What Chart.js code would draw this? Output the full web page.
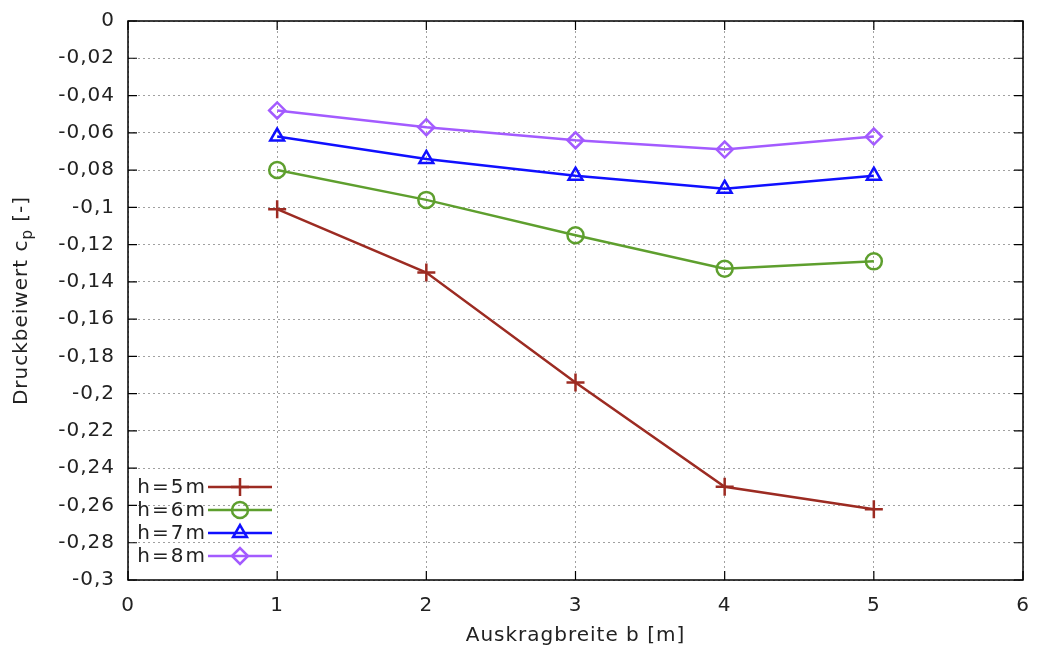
<!DOCTYPE html>
<html>
<head>
<meta charset="utf-8">
<script src="https://cdn.jsdelivr.net/npm/chart.js@4/dist/chart.umd.min.js"></script>
<style>
  html, body { margin: 0; padding: 0; background: #fff; }
  #wrap { width: 1037px; height: 652px; }
</style>
</head>
<body>
<div id="wrap"><canvas id="cpChart"></canvas></div>
<script>
// Auskragbreite b [m]
const breiten = [1, 2, 3, 4, 5];
// Druckbeiwert cp fuer die Hoehen
const h5 = [-0.101, -0.135, -0.194, -0.250, -0.262];
const h6 = [-0.080, -0.096, -0.115, -0.133, -0.129];
const h7 = [-0.062, -0.074, -0.083, -0.090, -0.083];
const h8 = [-0.048, -0.057, -0.064, -0.069, -0.062];
const serienNamen = ["h=5m", "h=6m", "h=7m", "h=8m"];
const farben = ["#9c2b22", "#5e9f2e", "#1010ff", "#a35bff"];
const marker = ["cross", "circle", "triangle", "rectRot"];
const xTicks = [0, 1, 2, 3, 4, 5, 6];

const FONT = "DejaVu Sans";
const FS = 20;
const SPACING = "1px";

function fmt(v) {
    if (Math.abs(v) < 1e-9) return "0";
    let s = v.toFixed(2).replace(/0+$/, "").replace(/\.$/, "");
    return s.replace(".", ",");
}

const serien = [h5, h6, h7, h8];
const datasets = serien.map((werte, i) => ({
    label: serienNamen[i],
    data: breiten.map((b, j) => ({ x: b, y: werte[j] })),
    borderColor: farben[i],
    backgroundColor: "transparent",
    pointBackgroundColor: "transparent",
    pointBorderColor: farben[i],
    pointStyle: marker[i],
    pointRadius: i === 0 ? 9 : 8,
    pointBorderWidth: 2.5,
    borderWidth: 2.5,
    tension: 0
}));

// Rahmen, Ticks, Achsentitel und Legende im gnuplot-Stil
const gnuplotStyle = {
    id: "gnuplotStyle",
    beforeDraw(chart) {
        chart.ctx.letterSpacing = SPACING;
    },
    afterDatasetsDraw(chart) {
        const { ctx, chartArea: a, scales } = chart;
        ctx.save();
        ctx.letterSpacing = "0px";
        ctx.strokeStyle = "#000";
        ctx.lineWidth = 1.5;
        ctx.strokeRect(a.left, a.top, a.right - a.left, a.bottom - a.top);
        ctx.lineWidth = 1.2;
        ctx.beginPath();
        scales.y.ticks.forEach(t => {
            const p = scales.y.getPixelForValue(t.value);
            ctx.moveTo(a.left, p); ctx.lineTo(a.left + 9, p);
            ctx.moveTo(a.right, p); ctx.lineTo(a.right - 9, p);
        });
        scales.x.ticks.forEach(t => {
            const p = scales.x.getPixelForValue(t.value);
            ctx.moveTo(p, a.bottom); ctx.lineTo(p, a.bottom - 9);
            ctx.moveTo(p, a.top); ctx.lineTo(p, a.top + 9);
        });
        ctx.stroke();
        ctx.restore();

        // y-Achsentitel mit Index p
        ctx.save();
        ctx.letterSpacing = SPACING;
        ctx.fillStyle = "#222";
        ctx.translate(22, (a.top + a.bottom) / 2);
        ctx.rotate(-Math.PI / 2);
        const t1 = "Druckbeiwert c", t2 = "p", t3 = " [-]";
        ctx.font = FS + "px '" + FONT + "'";
        const w1 = ctx.measureText(t1).width, w3 = ctx.measureText(t3).width;
        ctx.font = (FS - 5) + "px '" + FONT + "'";
        const w2 = ctx.measureText(t2).width;
        let x0 = -(w1 + w2 + w3) / 2;
        ctx.textBaseline = "middle";
        ctx.textAlign = "left";
        ctx.font = FS + "px '" + FONT + "'";
        ctx.fillText(t1, x0, 0);
        ctx.font = (FS - 5) + "px '" + FONT + "'";
        ctx.fillText(t2, x0 + w1, 6);
        ctx.font = FS + "px '" + FONT + "'";
        ctx.fillText(t3, x0 + w1 + w2, 0);
        ctx.restore();

        // Legende
        ctx.save();
        ctx.letterSpacing = "2px";
        ctx.font = FS + "px '" + FONT + "'";
        ctx.textAlign = "right";
        ctx.textBaseline = "middle";
        chart.data.datasets.forEach((ds, i) => {
            const y = 487 + i * 23;
            ctx.fillStyle = "#222";
            ctx.fillText(ds.label, 207, y + 1);
            ctx.strokeStyle = ds.borderColor;
            ctx.fillStyle = "rgba(0,0,0,0)";
            ctx.lineWidth = 2.5;
            ctx.beginPath();
            ctx.moveTo(208, y); ctx.lineTo(272, y);
            ctx.stroke();
            Chart.helpers.drawPoint(ctx, {
                pointStyle: ds.pointStyle,
                radius: ds.pointRadius,
                borderWidth: 2.5,
                rotation: 0
            }, 240, y);
        });
        ctx.restore();
    }
};

const gridStyle = {
    color: "#a0a0a0",
    lineWidth: 1,
    drawTicks: false
};

new Chart(document.getElementById("cpChart").getContext("2d"), {
    type: "line",
    data: { datasets: datasets },
    options: {
        responsive: true,
        maintainAspectRatio: false,
        animation: false,
        layout: { padding: { top: 21, right: 14, left: 0, bottom: 0 } },
        plugins: {
            legend: { display: false },
            tooltip: { enabled: false }
        },
        scales: {
            x: {
                type: "linear",
                min: 0,
                max: 6,
                afterBuildTicks: s => { s.ticks = xTicks.map(v => ({ value: v })); },
                afterFit: s => { s.height = 72; s.paddingLeft = 0; s.paddingRight = 0; },
                border: { display: false, dash: [2, 3] },
                grid: gridStyle,
                ticks: {
                    color: "#222",
                    padding: 14,
                    font: { family: FONT, size: FS },
                    callback: v => String(v)
                },
                title: {
                    display: true,
                    text: "Auskragbreite b [m]",
                    color: "#222",
                    font: { family: FONT, size: FS },
                    padding: { top: 6 }
                }
            },
            y: {
                min: -0.3,
                max: 0,
                afterFit: s => { s.width = 128; s.paddingTop = 0; s.paddingBottom = 0; },
                border: { display: false, dash: [2, 3] },
                grid: gridStyle,
                ticks: {
                    stepSize: 0.02,
                    color: "#222",
                    padding: 13,
                    font: { family: FONT, size: FS },
                    callback: v => fmt(v)
                }
            }
        }
    },
    plugins: [gnuplotStyle]
});
</script>
</body>
</html>
